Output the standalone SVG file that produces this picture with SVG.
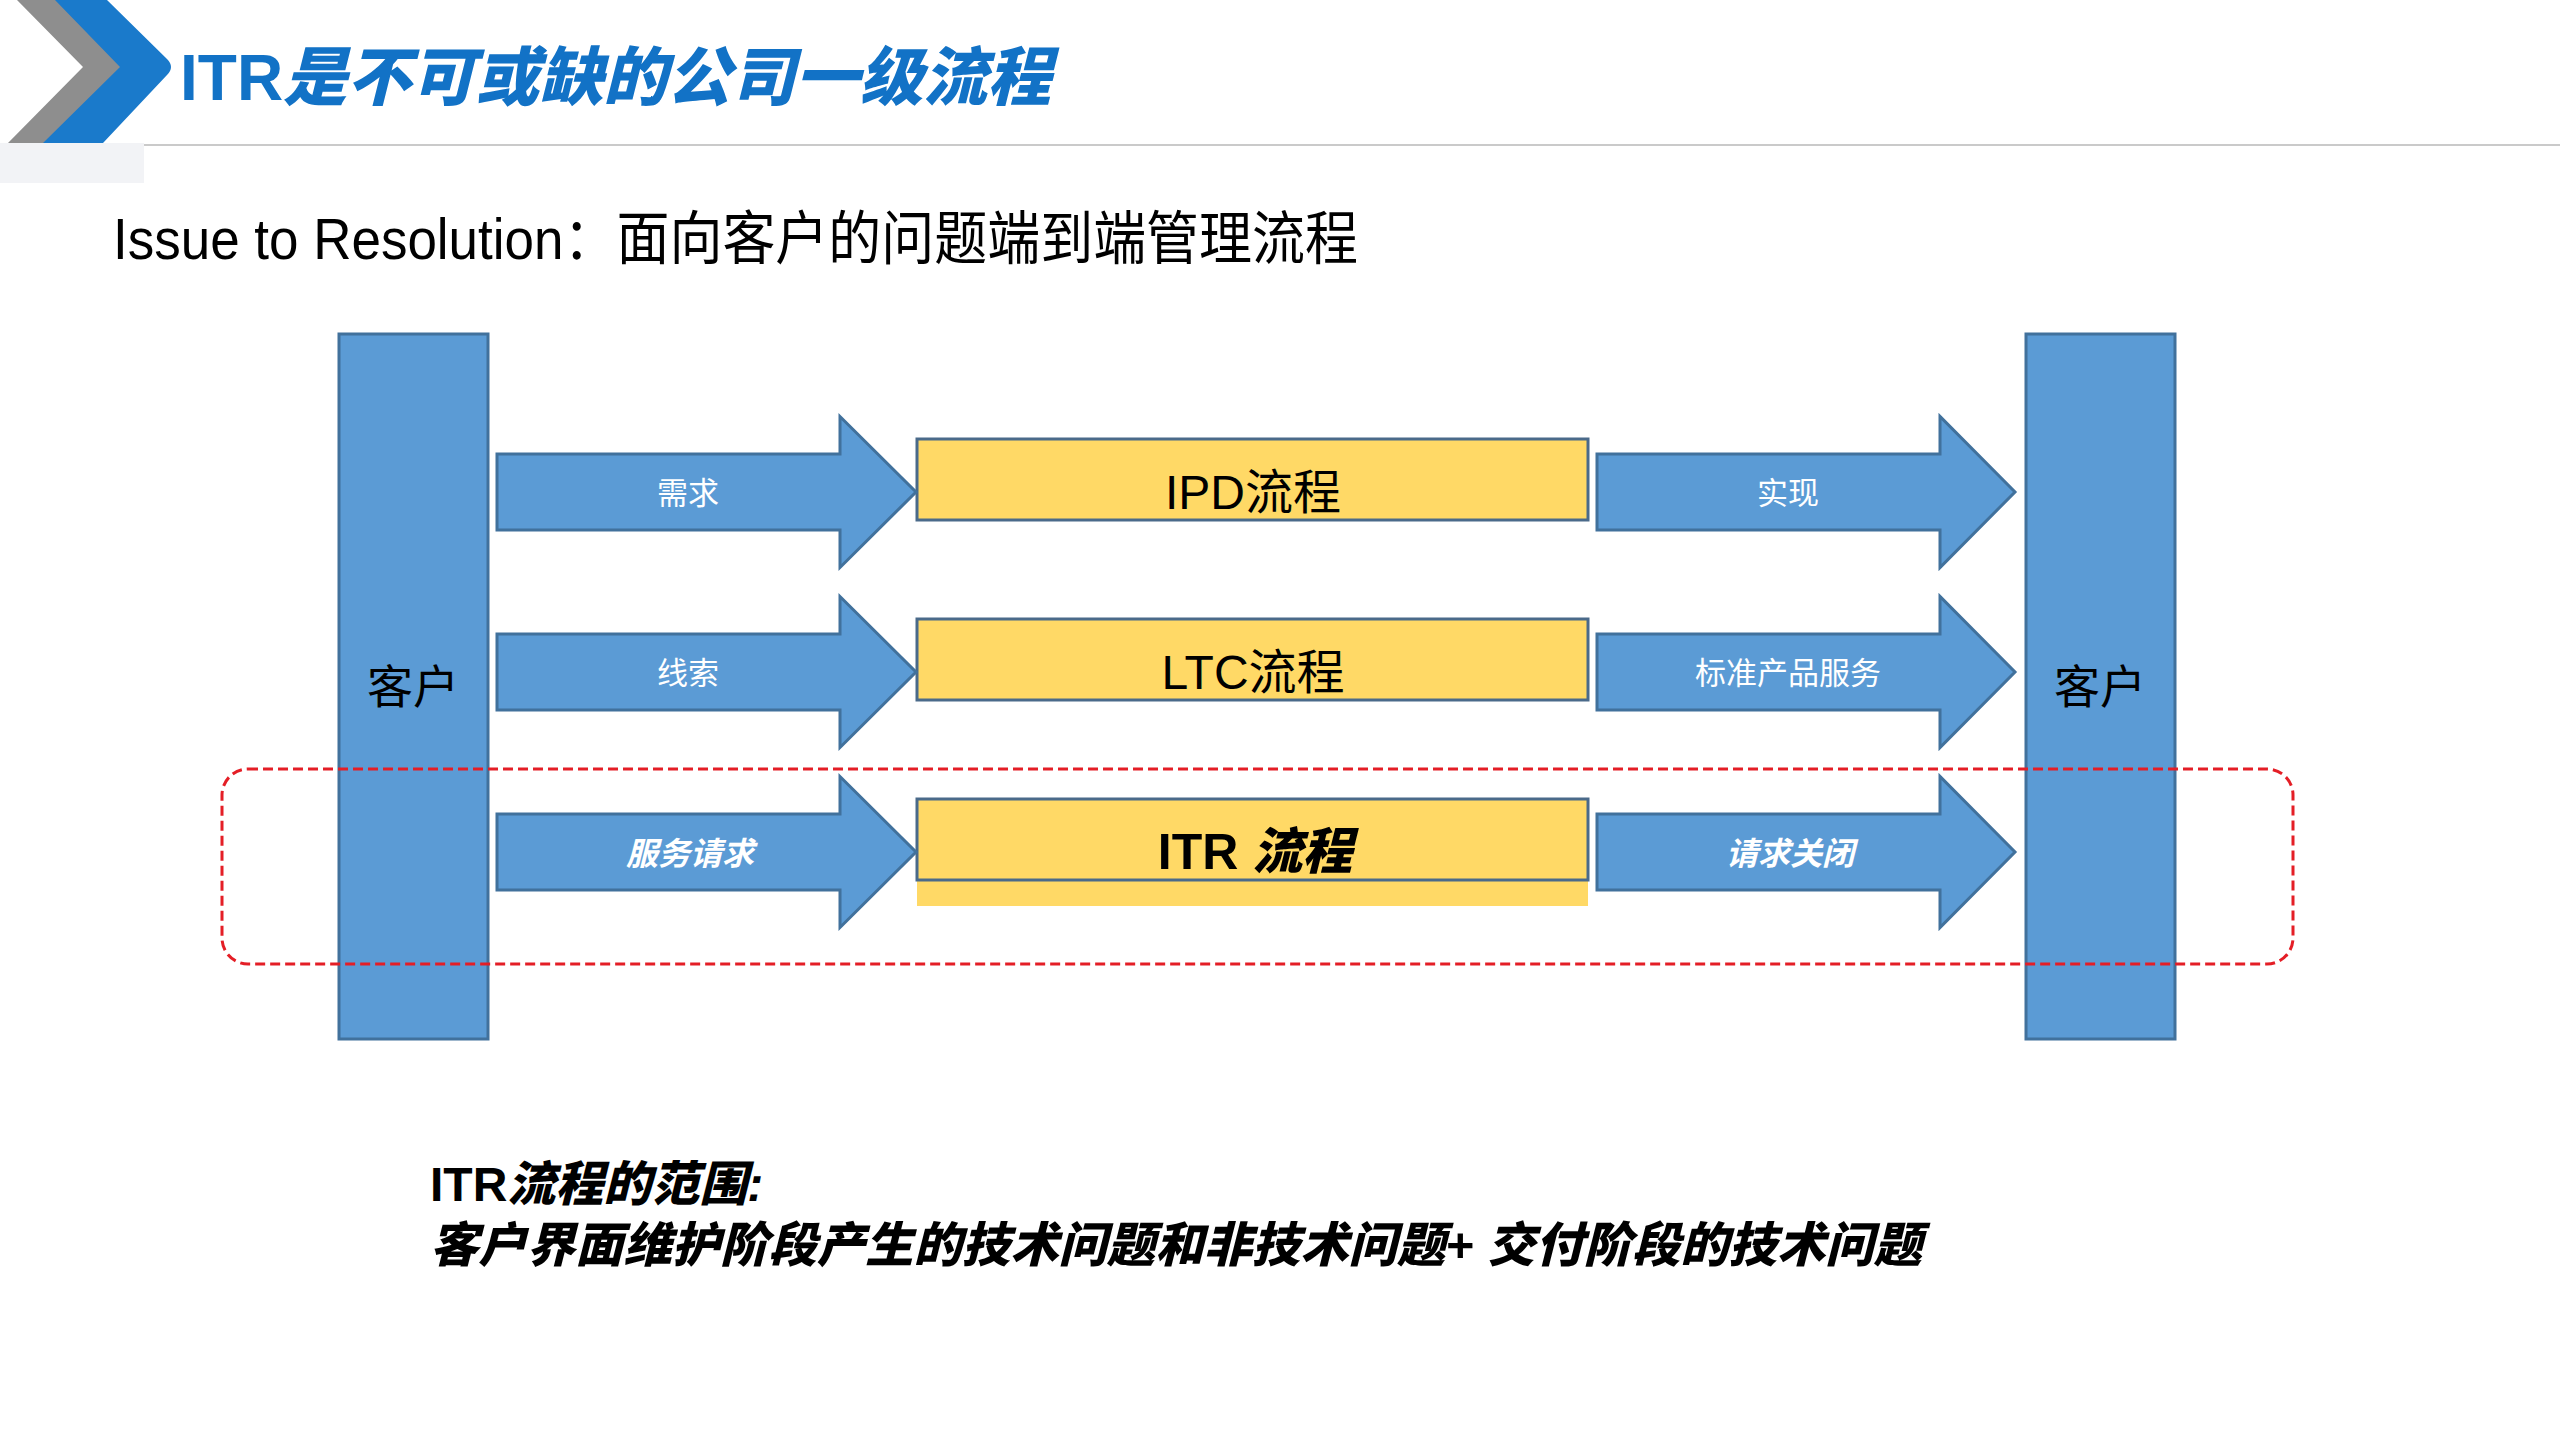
<svg xmlns="http://www.w3.org/2000/svg" width="2560" height="1440" viewBox="0 0 2560 1440">
<style>
.bar{fill:#5b9bd5;stroke:#41719c;stroke-width:3}
.arrow{fill:#5b9bd5;stroke:#41719c;stroke-width:3;stroke-linejoin:miter}
.box{fill:#ffd966;stroke:#4a6a8a;stroke-width:3}
.cust{font-family:"Liberation Sans","Noto Sans CJK SC",sans-serif;font-size:46px;fill:#000;text-anchor:middle}
.lbl{font-family:"Liberation Sans","Noto Sans CJK SC",sans-serif;font-size:31px;fill:#fff;text-anchor:middle}
.lblb{font-family:"Liberation Sans","Noto Sans CJK SC",sans-serif;font-size:32px;fill:#fff;text-anchor:middle;font-weight:bold;font-style:italic}
.proc{font-family:"Liberation Sans","Noto Sans CJK SC",sans-serif;font-size:48px;fill:#000;text-anchor:middle}
.heavy{font-family:"Liberation Sans","Noto Sans CJK SC",sans-serif;font-weight:bold}
.it{font-style:italic;font-weight:900}
</style>
<rect width="2560" height="1440" fill="#fff"/>
<g id="header">
<polygon points="17,0 60,0 125,67 48,143 8,143 83,67" fill="#8e8e8e"/>
<path d="M55,0 L107,0 L167,59 Q175,67 167,75 L103,143 L43,143 L120,67 Z" fill="#1a7acb"/>
<rect x="0" y="143" width="144" height="40" fill="#f2f3f6"/>
<line x1="144" y1="145" x2="2560" y2="145" stroke="#cacaca" stroke-width="2"/>
<text x="180" y="100" class="heavy" font-size="64" fill="#1272c6">ITR<tspan class="it">是不可或缺的公司一级流程</tspan></text>
</g>
<text id="subtitle" x="113" y="259" font-family="Liberation Sans,'Noto Sans CJK SC',sans-serif" font-size="58" fill="#000" textLength="1245" lengthAdjust="spacingAndGlyphs">Issue to Resolution：面向客户的问题端到端管理流程</text>
<g id="customer-left">
<rect class="bar" x="339" y="334" width="149" height="705"/>
<text class="cust" x="413" y="703">客户</text>
</g>
<g id="customer-right">
<rect class="bar" x="2026" y="334" width="149" height="705"/>
<text class="cust" x="2100" y="703">客户</text>
</g>
<g id="ipd">
<rect class="box" x="917" y="439" width="671" height="81"/>
<text class="proc" x="1253" y="509">IPD流程</text>
</g>
<g id="ltc">
<rect class="box" x="917" y="619" width="671" height="81"/>
<text class="proc" x="1253" y="689">LTC流程</text>
</g>
<g id="itr">
<rect x="917" y="878" width="671" height="28" fill="#ffd966"/>
<rect class="box" x="917" y="799" width="671" height="81"/>
<text class="heavy" x="1255" y="869" font-size="50" text-anchor="middle">ITR <tspan class="it">流程</tspan></text>
</g>
<g id="connectors">
<polygon class="arrow" points="497,454 840,454 840,416.5 916,492 840,567.5 840,530 497,530"/>
<text class="lbl" x="688" y="504">需求</text>
<polygon class="arrow" points="1597,454 1940,454 1940,416.5 2015,492 1940,567.5 1940,530 1597,530"/>
<text class="lbl" x="1788" y="504">实现</text>
<polygon class="arrow" points="497,634 840,634 840,596.5 916,672 840,747.5 840,710 497,710"/>
<text class="lbl" x="688" y="684">线索</text>
<polygon class="arrow" points="1597,634 1940,634 1940,596.5 2015,672 1940,747.5 1940,710 1597,710"/>
<text class="lbl" x="1788" y="684">标准产品服务</text>
<polygon class="arrow" points="497,814 840,814 840,776.5 916,852 840,927.5 840,890 497,890"/>
<text class="lblb" x="690" y="865">服务请求</text>
<polygon class="arrow" points="1597,814 1940,814 1940,776.5 2015,852 1940,927.5 1940,890 1597,890"/>
<text class="lblb" x="1790" y="865">请求关闭</text>
</g>
<rect id="itr-scope" x="222" y="769" width="2071" height="195" rx="26" ry="26" fill="none" stroke="#e41e26" stroke-width="3" stroke-dasharray="10 5"/>
<g id="footer-text" class="heavy" font-size="48" fill="#000">
<text x="430" y="1201">ITR<tspan class="it">流程的范围:</tspan></text>
<text x="430" y="1262" class="it" textLength="1492" lengthAdjust="spacingAndGlyphs">客户界面维护阶段产生的技术问题和非技术问题+ 交付阶段的技术问题</text>
</g>
</svg>
